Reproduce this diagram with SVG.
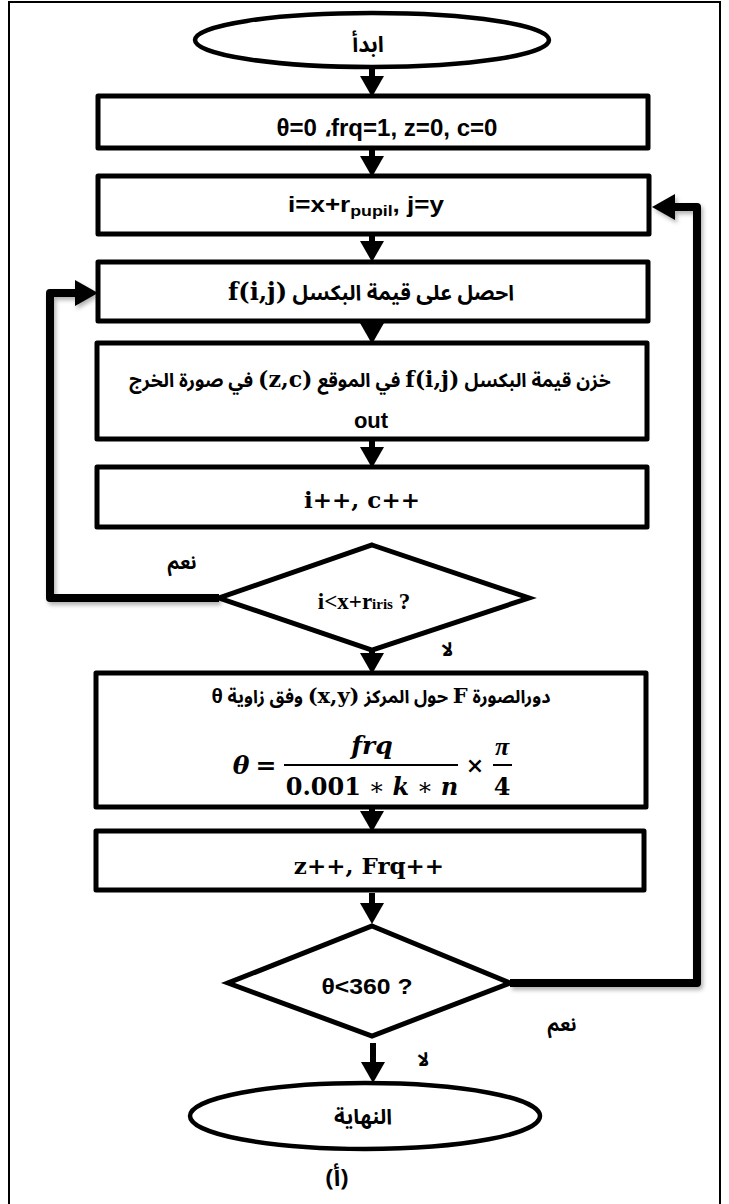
<svg xmlns="http://www.w3.org/2000/svg" width="729" height="1204" viewBox="0 0 729 1204">
  <style>
    .frame { fill: none; stroke: #000; stroke-width: 2; }
    .box { fill: #fff; stroke: #000; stroke-width: 5; stroke-linejoin: round; }
    .term { fill: #fff; stroke: #000; stroke-width: 4.5; }
    .dia { fill: #fff; stroke: #000; stroke-width: 5; stroke-linejoin: miter; }
    .shaft { fill: none; stroke: #000; stroke-width: 6; }
    .loop { fill: none; stroke: #000; stroke-width: 8; stroke-linejoin: round; }
    .sans { font-family: "Liberation Sans", Arial, sans-serif; font-weight: bold; fill: #000; }
    .serif { font-family: "DejaVu Serif", "Liberation Serif", serif; font-weight: bold; fill: #000; }
    .times { font-family: "Liberation Serif", "Times New Roman", serif; font-weight: bold; fill: #000; }
    .ar { font-family: "Noto Sans Arabic", "DejaVu Sans", sans-serif; font-weight: bold; fill: #000; }
    .math { font-family: "DejaVu Serif", "Liberation Serif", serif; font-weight: bold; fill: #000; }
  </style>
  <defs>
    <marker id="ah" markerUnits="userSpaceOnUse" markerWidth="22" markerHeight="24" refX="0" refY="12" orient="auto" overflow="visible">
      <path d="M0,0 L21,12 L0,24 Z" fill="#000"/>
    </marker>
    <marker id="ahL" markerUnits="userSpaceOnUse" markerWidth="24" markerHeight="26" refX="0" refY="13" orient="auto" overflow="visible">
      <path d="M0,0 L23,13 L0,26 Z" fill="#000"/>
    </marker>
    <filter id="sh" x="-10%" y="-10%" width="120%" height="120%">
      <feDropShadow dx="2" dy="3" stdDeviation="2" flood-color="#000" flood-opacity="0.3"/>
    </filter>
  </defs>

  <rect class="frame" x="9" y="2" width="711" height="1212"/>

  <g id="connectors">
    <line class="shaft" x1="372" y1="67" x2="372" y2="76" marker-end="url(#ah)"/>
    <line class="shaft" x1="372" y1="148" x2="372" y2="156" marker-end="url(#ah)"/>
    <line class="shaft" x1="372" y1="234" x2="372" y2="241" marker-end="url(#ah)"/>
    <line class="shaft" x1="372" y1="321" x2="372" y2="323" marker-end="url(#ah)"/>
    <line class="shaft" x1="372" y1="439" x2="372" y2="447" marker-end="url(#ah)"/>
    <line class="shaft" x1="372" y1="527" x2="372" y2="525" marker-end="url(#ah)"/>
    <line class="shaft" x1="372" y1="650" x2="372" y2="653" marker-end="url(#ah)"/>
    <line class="shaft" x1="372" y1="807" x2="372" y2="811" marker-end="url(#ah)"/>
    <line class="shaft" x1="372" y1="893" x2="372" y2="903" marker-end="url(#ah)"/>
    <line class="shaft" x1="373" y1="1043" x2="373" y2="1062" marker-end="url(#ah)"/>
    <g filter="url(#sh)">
      <polyline class="loop" points="219,598 50,598 50,293 75,293" marker-end="url(#ahL)"/>
      <polyline class="loop" points="510,983 697,983 697,207 675,207" marker-end="url(#ahL)"/>
    </g>
  </g>

  <g id="start">
    <ellipse class="term" cx="372" cy="40" rx="177" ry="27"/>
    <text class="ar" x="368" y="52" font-size="22" text-anchor="middle">ابدأ</text>
  </g>

  <g id="init">
    <rect class="box" x="98" y="96" width="550" height="52"/>
    <text class="sans" x="387" y="136" font-size="23" text-anchor="middle" textLength="221" lengthAdjust="spacingAndGlyphs">θ=0 ،frq=1, z=0, c=0</text>
  </g>

  <g id="setij">
    <rect class="box" x="98" y="176" width="551" height="58"/>
    <text class="sans" x="366" y="212" font-size="22" text-anchor="middle" textLength="156" lengthAdjust="spacingAndGlyphs">i=x+r<tspan font-size="15" dy="4">pupil</tspan><tspan dy="-4">, j=y</tspan></text>
  </g>

  <g id="getpixel">
    <rect class="box" x="98" y="262" width="550" height="59"/>
    <text class="ar" x="371" y="300" font-size="21" text-anchor="middle" direction="rtl">احصل على قيمة البكسل <tspan class="serif" font-size="24">&#x200E;f(i,j)&#x200E;</tspan></text>
  </g>

  <g id="store">
    <rect class="box" x="97" y="343" width="550" height="96"/>
    <text class="ar" x="370" y="387" font-size="19" text-anchor="middle" direction="rtl">خزن قيمة البكسل <tspan class="serif" font-size="22">&#x200E;f(i,j)&#x200E;</tspan> في الموقع <tspan class="serif" font-size="22">&#x200E;(z,c)&#x200E;</tspan> في صورة الخرج</text>
    <text class="sans" x="371" y="428" font-size="22" text-anchor="middle">out</text>
  </g>

  <g id="incr">
    <rect class="box" x="97" y="467" width="550" height="60"/>
    <text class="serif" x="362" y="508" font-size="23" text-anchor="middle">i++, c++</text>
  </g>

  <g id="cond1">
    <polygon class="dia" points="372,545 529,598 372,650 219,598"/>
    <text class="times" x="364" y="609" font-size="23" text-anchor="middle">i&lt;x+r<tspan font-size="15">iris</tspan> ?</text>
  </g>

  <g id="rotate">
    <rect class="box" x="96" y="673" width="550" height="134"/>
    <text class="ar" x="381" y="703" font-size="18" text-anchor="middle" direction="rtl">دورالصورة <tspan class="serif" font-size="21">F</tspan> حول المركز <tspan class="serif" font-size="21">&#x200E;(x,y)&#x200E;</tspan> وفق زاوية <tspan class="sans" font-size="21">θ</tspan></text>
    <text class="math" x="241" y="774" font-size="25" font-style="italic" text-anchor="middle">θ</text>
    <text class="math" x="266" y="774" font-size="25" font-weight="normal" text-anchor="middle">=</text>
    <line x1="284" y1="765" x2="458" y2="765" stroke="#000" stroke-width="2"/>
    <text class="math" x="372" y="754" font-size="25" font-style="italic" text-anchor="middle">frq</text>
    <text class="math" x="372" y="795" font-size="24" text-anchor="middle">0.001<tspan font-weight="normal"> ∗ </tspan><tspan font-style="italic">k</tspan><tspan font-weight="normal"> ∗ </tspan><tspan font-style="italic">n</tspan></text>
    <text class="math" x="475" y="773" font-size="22" font-weight="normal" text-anchor="middle">×</text>
    <line x1="493" y1="765" x2="512" y2="765" stroke="#000" stroke-width="2"/>
    <text class="times" x="502" y="755" font-size="26" font-style="italic" text-anchor="middle">π</text>
    <text class="math" x="502" y="795" font-size="24" text-anchor="middle">4</text>
  </g>

  <g id="incr2">
    <rect class="box" x="96" y="831" width="548" height="59"/>
    <text class="serif" x="369" y="874" font-size="23" text-anchor="middle">z++, Frq++</text>
  </g>

  <g id="cond2">
    <polygon class="dia" points="372,926 510,983 372,1036 228,983"/>
    <text class="sans" x="367" y="994" font-size="22" text-anchor="middle" textLength="91" lengthAdjust="spacingAndGlyphs">θ&lt;360 ?</text>
  </g>

  <g id="end">
    <ellipse class="term" cx="365" cy="1116" rx="175" ry="33"/>
    <text class="ar" x="363" y="1124" font-size="21" text-anchor="middle">النهاية</text>
  </g>

  <g id="labels">
    <text class="ar" x="182" y="569" font-size="19" text-anchor="middle">نعم</text>
    <text class="ar" x="447" y="656" font-size="19" text-anchor="middle">لا</text>
    <text class="ar" x="562" y="1031" font-size="19" text-anchor="middle">نعم</text>
    <text class="ar" x="423" y="1066" font-size="19" text-anchor="middle">لا</text>
    <text class="ar" x="337" y="1186" font-size="24" font-weight="normal" text-anchor="middle">(أ)</text>
  </g>
</svg>
